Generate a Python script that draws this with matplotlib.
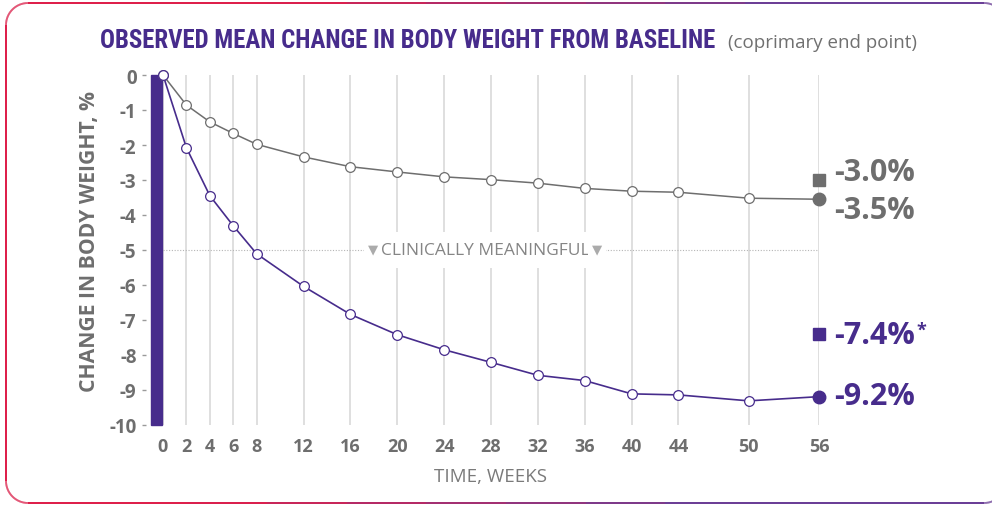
import numpy as np
import matplotlib.pyplot as plt
from matplotlib.patches import Rectangle
from matplotlib.collections import LineCollection

plt.rcParams['axes.unicode_minus'] = False

# valeurs
weeks = [0, 2, 4, 6, 8, 12, 16, 20, 24, 28, 32, 36, 40, 44, 50, 56]
placebo = [0, -0.86, -1.34, -1.67, -1.98, -2.34, -2.62, -2.77, -2.91, -2.99,
           -3.09, -3.24, -3.32, -3.35, -3.52, -3.55]
treatment = [0, -2.08, -3.45, -4.31, -5.11, -6.04, -6.84, -7.42, -7.85, -8.21,
             -8.58, -8.73, -9.11, -9.14, -9.31, -9.19]
end_values = {'placebo': (-3.0, -3.5), 'treatment': (-7.4, -9.2)}
yticks = list(range(0, -11, -1))
threshold = -5

purple = '#472c8c'
gray = '#6e6e6e'
grid_gray = '#d6d6d6'

fig = plt.figure(figsize=(9.92, 5.06), dpi=100)

# cadre arrondi (degrade rouge -> violet)
bg = fig.add_axes([0, 0, 1, 1])
bg.set_xlim(0, 992)
bg.set_ylim(506, 0)
bg.axis('off')
r = 22
x0, x1, y0, y1 = 6, 1006, 4, 504
pts = []
for a in np.linspace(0, np.pi / 2, 20):
    pts.append((x1 - r + r * np.cos(a), y1 - r + r * np.sin(a)))
for a in np.linspace(np.pi / 2, np.pi, 20):
    pts.append((x0 + r + r * np.cos(a), y1 - r + r * np.sin(a)))
for a in np.linspace(np.pi, 1.5 * np.pi, 20):
    pts.append((x0 + r + r * np.cos(a), y0 + r + r * np.sin(a)))
for a in np.linspace(1.5 * np.pi, 2 * np.pi, 20):
    pts.append((x1 - r + r * np.cos(a), y0 + r + r * np.sin(a)))
pts = np.array(pts)
dense = []
for i in range(len(pts) - 1):
    for t in np.linspace(0, 1, 12, endpoint=False):
        dense.append(pts[i] * (1 - t) + pts[i + 1] * t)
dense = np.array(dense)
segs = np.stack([dense[:-1], dense[1:]], axis=1)
red = np.array([0.86, 0.03, 0.22])
violet = np.array([0.36, 0.17, 0.55])
frac = np.clip((segs[:, 0, 0] - 250) / 500, 0, 1)[:, None]
cols = red * (1 - frac) + violet * frac
bg.add_collection(LineCollection(segs, colors=cols, linewidths=1.3))

ax = fig.add_axes([163 / 992, 80 / 506, 656 / 992, 350 / 506])
ax.set_xlim(0, 56)
ax.set_ylim(-10, 0)

for s in ['top', 'right', 'bottom']:
    ax.spines[s].set_visible(False)
ax.spines['left'].set_position(('outward', 12))
ax.spines['left'].set_visible(False)

ax.set_xticks(weeks)
ax.set_yticks(yticks)
ax.tick_params(axis='x', length=0, pad=9, labelsize=13, labelcolor=gray)
ax.tick_params(axis='y', length=3, width=1, color='#9a9a9a', pad=4,
               labelsize=13.5, labelcolor=gray)
for lab in ax.get_xticklabels() + ax.get_yticklabels():
    lab.set_fontfamily('Open Sans')
    lab.set_fontweight('bold')

ax.grid(axis='x', color=grid_gray, linewidth=1.1)
ax.set_axisbelow(True)

# barre violette a gauche
ax.add_patch(Rectangle((-12 / 656, 0), 11 / 656, 1, transform=ax.transAxes,
                       color=purple, clip_on=False, zorder=3))

# ligne cliniquement significative
ax.axhline(threshold, color='#b5b5b5', linestyle=(0, (1, 1.5)), linewidth=0.8, zorder=1)
mid = ax.text(27.5, threshold, 'CLINICALLY MEANINGFUL', ha='center', va='center',
              fontsize=12.5, color='#858585', family='Open Sans', zorder=2,
              bbox=dict(facecolor='white', edgecolor='none', boxstyle='square,pad=0.55'))
tri_kw = dict(textcoords='offset points', va='center', fontsize=9.5, color='#ababab',
              family='DejaVu Sans', zorder=2.5,
              bbox=dict(facecolor='white', edgecolor='none', boxstyle='square,pad=0.3'))
ax.annotate('\u25bc', xy=(0, 0.58), xycoords=mid, xytext=(-2, 0), ha='right', **tri_kw)
ax.annotate('\u25bc', xy=(1, 0.58), xycoords=mid, xytext=(2, 0), ha='left', **tri_kw)

# courbes
ax.plot(weeks[:-1], placebo[:-1], color=gray, linewidth=1.1, marker='o', markersize=7,
        markerfacecolor='white', markeredgecolor=gray, markeredgewidth=0.9, clip_on=False, zorder=5)
ax.plot(weeks[-2:], placebo[-2:], color=gray, linewidth=1.1, zorder=4)
ax.plot(weeks[-1], placebo[-1], 'o', color=gray, markersize=9, clip_on=False, zorder=6)

ax.plot(weeks[:-1], treatment[:-1], color=purple, linewidth=1.2, marker='o', markersize=7,
        markerfacecolor='white', markeredgecolor=purple, markeredgewidth=0.9, clip_on=False, zorder=5)
ax.plot(weeks[-2:], treatment[-2:], color=purple, linewidth=1.2, zorder=4)
ax.plot(weeks[-1], treatment[-1], 'o', color=purple, markersize=9, clip_on=False, zorder=6)

# marqueurs carres (critere principal)
ax.plot(weeks[-1], end_values['placebo'][0], 's', color=gray, markersize=8, clip_on=False, zorder=6)
ax.plot(weeks[-1], end_values['treatment'][0], 's', color=purple, markersize=8, clip_on=False, zorder=6)

lab_kw = dict(textcoords='offset points', ha='left', va='center', fontsize=22,
              fontweight='bold', family='Open Sans', annotation_clip=False)
ax.annotate('%.1f%%' % end_values['placebo'][0], xy=(56, end_values['placebo'][0]),
            xytext=(11, 5.5), color=gray, **lab_kw)
ax.annotate('%.1f%%' % end_values['placebo'][1], xy=(56, placebo[-1]),
            xytext=(11, -8), color=gray, **lab_kw)
t74 = ax.annotate('%.1f%%' % end_values['treatment'][0], xy=(56, end_values['treatment'][0]),
                  xytext=(11, -1), color=purple, **lab_kw)
ax.annotate('*', xy=(1, 1), xycoords=t74, xytext=(1, 0), textcoords='offset points',
            ha='left', va='top', fontsize=13, fontweight='bold', color=purple, family='Open Sans')
ax.annotate('%.1f%%' % end_values['treatment'][1], xy=(56, treatment[-1]),
            xytext=(11, 0.5), color=purple, **lab_kw)

ax.set_xlabel('TIME, WEEKS', fontsize=13.5, color='#7a7a7a', family='Open Sans', labelpad=8)
ax.set_ylabel('CHANGE IN BODY WEIGHT, %', fontsize=15.2, color=gray, family='Open Sans',
              fontweight='bold')
ax.yaxis.set_label_coords(-0.096, 0.526)

title = fig.text(100 / 992, 1 - 48 / 506, 'OBSERVED MEAN CHANGE IN BODY WEIGHT FROM BASELINE',
                 fontsize=20, fontweight='bold', color=purple, fontstretch='condensed',
                 family=['Roboto Condensed', 'Liberation Sans Narrow', 'Open Sans Condensed',
                         'Roboto', 'DejaVu Sans'],
                 ha='left', va='baseline')
fig.text(728 / 992, 1 - 48 / 506, '(coprimary end point)', fontsize=13.5, color='#707070',
         family='Open Sans', ha='left', va='baseline')

# ajuster la taille du titre a la largeur du modele (616 px)
fig.canvas.draw()
w = title.get_window_extent().width
title.set_fontsize(20 * 616 / w)

fig.savefig('out.png', dpi=100)
